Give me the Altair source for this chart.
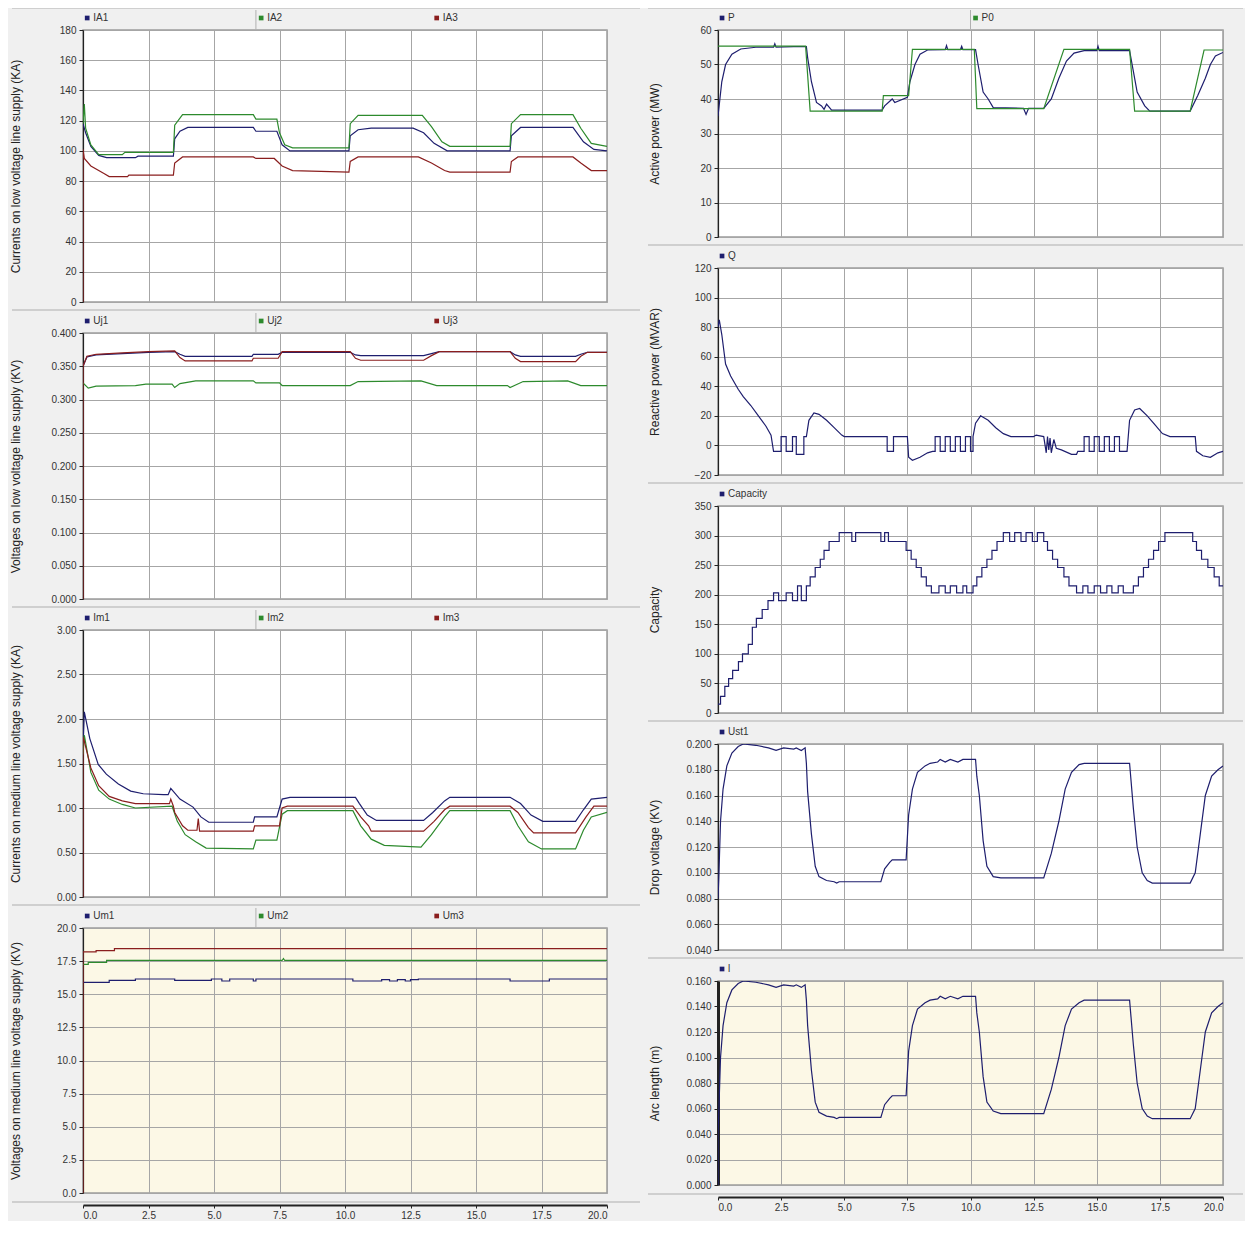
import altair as alt
import pandas as pd

NAVY = "#1e1e6e"
GREEN = "#2d8a2d"
RED = "#8a1e1e"
TEXT = "#333333"
GRID = "#a6a6a6"
CREAM = "#fcf8e6"
PAGE = "#f0f0f0"
FONT = "Liberation Sans"

X_TICKS = [0, 2.5, 5, 7.5, 10, 12.5, 15, 17.5, 20]

# ---------- tick labels ----------
IA_TICKS = [0, 20, 40, 60, 80, 100, 120, 140, 160, 180]
UJ_TICKS = [0.0, 0.05, 0.1, 0.15, 0.2, 0.25, 0.3, 0.35, 0.4]
IM_TICKS = [0.0, 0.5, 1.0, 1.5, 2.0, 2.5, 3.0]
UM_TICKS = [0.0, 2.5, 5.0, 7.5, 10.0, 12.5, 15.0, 17.5, 20.0]
P_TICKS = [0, 10, 20, 30, 40, 50, 60]
Q_TICKS = [-20, 0, 20, 40, 60, 80, 100, 120]
CAP_TICKS = [0, 50, 100, 150, 200, 250, 300, 350]
UST_TICKS = [0.04, 0.06, 0.08, 0.10, 0.12, 0.14, 0.16, 0.18, 0.20]
ARC_TICKS = [0.0, 0.02, 0.04, 0.06, 0.08, 0.10, 0.12, 0.14, 0.16]

# ---------- series (time s, value) ----------
IA1 = [(0,118),(0.1,112),(0.3,103),(0.6,97),(0.9,95.5),(2.0,95.5),(2.1,96.5),(3.45,96.5),(3.5,108),(3.7,113),(4.0,115.5),(6.5,115.5),(6.6,113),(7.4,113),(7.6,104),(7.9,100),(10.15,100),(10.2,110),(10.5,114),(11.0,115),(12.6,115),(13.0,112),(13.4,105),(13.9,100),(16.3,100),(16.35,110),(16.7,115.5),(18.7,115.5),(19.1,106),(19.5,101),(20,100)]
IA2 = [(0,118),(0.05,131),(0.1,115),(0.3,104),(0.6,97.5),(1.5,97.5),(1.6,99),(3.45,99),(3.5,117),(3.8,124),(6.5,124),(6.6,121),(7.4,121),(7.5,112),(7.7,104),(8.0,102),(10.15,102),(10.2,118),(10.5,123.5),(12.95,123.5),(13.3,116),(13.7,106),(14.0,103),(16.3,103),(16.35,118),(16.7,124),(18.7,124),(19.0,115),(19.4,105),(20,103)]
IA3 = [(0,0),(0,101),(0.05,95),(0.3,90),(0.8,85),(1.0,83),(1.7,83),(1.75,84),(3.45,84),(3.5,92),(3.8,96),(6.5,96),(6.6,95),(7.3,95),(7.6,90),(8.0,87),(10.15,86),(10.2,93),(10.5,96),(12.8,96),(13.3,92),(13.8,87),(14.0,86),(16.3,86),(16.35,93),(16.6,96),(18.7,96),(19.0,92),(19.4,87),(20,87)]

UJ1 = [(0,0.350),(0.15,0.364),(0.5,0.367),(1.5,0.369),(2.5,0.371),(3.5,0.372),(3.7,0.368),(3.9,0.365),(6.45,0.365),(6.5,0.368),(7.45,0.368),(7.6,0.371),(10.2,0.371),(10.4,0.367),(10.6,0.366),(13.0,0.366),(13.3,0.369),(13.6,0.372),(16.3,0.372),(16.5,0.367),(16.7,0.365),(18.8,0.365),(19.0,0.368),(19.25,0.371),(20,0.371)]
UJ2 = [(0,0.325),(0.2,0.317),(0.5,0.320),(2.0,0.321),(2.4,0.323),(3.4,0.323),(3.5,0.318),(3.7,0.324),(4.3,0.328),(6.5,0.328),(6.6,0.325),(7.5,0.325),(7.6,0.321),(10.2,0.321),(10.5,0.327),(12.9,0.328),(13.5,0.321),(16.2,0.321),(16.3,0.318),(16.8,0.327),(18.5,0.328),(19.0,0.321),(20,0.321)]
UJ3 = [(0,0),(0,0.350),(0.15,0.365),(0.5,0.368),(1.5,0.370),(2.5,0.372),(3.5,0.373),(3.7,0.363),(3.9,0.358),(6.45,0.358),(6.5,0.362),(7.45,0.362),(7.6,0.372),(10.2,0.372),(10.4,0.362),(10.6,0.359),(13.0,0.359),(13.3,0.366),(13.6,0.372),(16.3,0.372),(16.5,0.362),(16.7,0.357),(18.8,0.357),(19.0,0.365),(19.25,0.371),(20,0.371)]

IM1 = [(0,1.70),(0.05,2.08),(0.26,1.78),(0.58,1.49),(0.89,1.38),(1.35,1.27),(1.82,1.19),(2.3,1.16),(3.07,1.15),(3.25,1.15),(3.35,1.22),(3.7,1.10),(4.2,1.01),(4.5,0.90),(4.8,0.84),(6.5,0.84),(6.55,0.90),(7.4,0.90),(7.5,1.00),(7.6,1.10),(7.9,1.12),(10.4,1.12),(10.55,1.05),(10.85,0.92),(11.2,0.86),(13.0,0.86),(13.35,0.95),(13.8,1.08),(14.0,1.12),(16.3,1.12),(16.7,1.05),(17.1,0.92),(17.55,0.85),(18.8,0.85),(19.1,0.98),(19.4,1.10),(20,1.12)]
IM2 = [(0,1.60),(0.05,1.82),(0.3,1.40),(0.6,1.20),(1.0,1.10),(1.5,1.04),(2.0,1.00),(3.4,1.02),(3.6,0.85),(3.9,0.70),(4.3,0.62),(4.7,0.55),(6.5,0.54),(6.6,0.64),(7.4,0.64),(7.6,0.93),(7.8,0.97),(10.3,0.97),(10.6,0.80),(11.0,0.65),(11.5,0.58),(12.9,0.56),(13.3,0.70),(13.8,0.90),(14.0,0.97),(16.3,0.97),(16.6,0.80),(17.0,0.62),(17.5,0.54),(18.8,0.54),(19.1,0.75),(19.4,0.90),(20,0.95)]
IM3 = [(0,0),(0,1.80),(0.05,1.75),(0.3,1.45),(0.6,1.25),(1.0,1.13),(1.5,1.08),(2.0,1.05),(3.3,1.05),(3.35,1.10),(3.45,1.02),(3.5,0.95),(3.8,0.80),(4.0,0.75),(4.35,0.75),(4.4,0.88),(4.45,0.74),(6.5,0.74),(6.55,0.80),(7.5,0.80),(7.6,1.00),(7.8,1.02),(10.3,1.02),(10.6,0.90),(10.9,0.80),(11.0,0.74),(13.0,0.74),(13.4,0.85),(13.8,0.98),(14.0,1.02),(16.3,1.02),(16.6,0.95),(17.0,0.78),(17.2,0.72),(18.8,0.72),(19.2,0.90),(19.5,1.02),(20,1.02)]

UM1 = [(0,15.9),(1.0,15.9),(1.0,16.05),(2.0,16.05),(2.0,16.15),(3.5,16.15),(3.5,16.05),(4.9,16.05),(4.9,16.15),(5.3,16.15),(5.3,16.0),(5.6,16.0),(5.6,16.15),(6.5,16.15),(6.5,16.0),(6.6,16.0),(6.6,16.15),(10.3,16.15),(10.3,16.0),(11.4,16.0),(11.4,16.1),(11.7,16.1),(11.7,16.0),(12.0,16.0),(12.0,16.1),(12.3,16.1),(12.3,16.0),(12.5,16.0),(12.5,16.1),(12.8,16.1),(12.8,16.15),(16.3,16.15),(16.3,16.0),(17.8,16.0),(17.8,16.15),(20,16.15)]
UM2 = [(0,17.25),(0.2,17.25),(0.2,17.4),(0.9,17.4),(0.9,17.55),(7.6,17.55),(7.65,17.7),(7.7,17.55),(20,17.55)]
UM3 = [(0,0),(0,18.2),(0.5,18.2),(0.5,18.3),(1.2,18.3),(1.2,18.45),(20,18.45)]

P = [(0,35),(0.15,45),(0.3,50),(0.55,53),(0.9,54.5),(1.5,55),(2.2,55),(2.25,56),(2.3,55),(3.0,55.2),(3.5,55.2),(3.55,52),(3.7,45),(3.9,39),(4.1,38),(4.2,37),(4.3,38.5),(4.5,36.8),(6.5,36.8),(6.6,38),(6.9,40),(7.0,39),(7.5,40.5),(7.6,45),(7.8,50),(8.0,53),(8.3,54.2),(9.0,54.3),(9.05,55.5),(9.1,54.3),(9.6,54.3),(9.65,55.3),(9.7,54.3),(10.2,54.3),(10.3,50),(10.5,42),(10.7,40),(10.9,37.5),(12.1,37.3),(12.2,35.5),(12.3,37.3),(12.9,37.3),(13.2,40),(13.5,46),(13.8,51),(14.1,53.3),(14.5,54),(15.0,54),(15.05,55.3),(15.1,54),(16.3,54),(16.45,48),(16.6,42),(16.9,38),(17.1,36.5),(18.7,36.5),(19.0,41),(19.3,46),(19.5,50),(19.7,52.5),(20,53.5)]
P0 = [(0,55.3),(3.47,55.3),(3.65,36.5),(6.5,36.5),(6.55,41),(7.55,41),(7.7,54.4),(10.15,54.4),(10.25,37.2),(12.9,37.2),(13.7,54.4),(16.3,54.4),(16.5,36.5),(18.7,36.5),(19.25,54.2),(20,54.2)]

Q = [(0,80),(0.05,85),(0.15,75),(0.3,55),(0.5,47),(0.8,38),(1.0,33),(1.3,27),(1.6,20),(1.9,13),(2.1,7),(2.2,-4),(2.5,-4),(2.5,6),(2.7,6),(2.7,-4),(2.95,-4),(2.95,6),(3.1,6),(3.1,-6),(3.4,-6),(3.4,6),(3.5,6),(3.6,17),(3.8,22),(4.0,21),(4.3,17),(4.6,12),(4.9,7),(5.0,6),(6.7,6),(6.7,-4),(6.95,-4),(6.95,6),(7.5,6),(7.55,-8),(7.7,-10),(8.0,-8),(8.3,-5),(8.5,-4),(8.6,-4),(8.6,6),(8.8,6),(8.8,-4),(9.0,-4),(9.0,6),(9.2,6),(9.2,-4),(9.4,-4),(9.4,6),(9.6,6),(9.6,-4),(9.8,-4),(9.8,6),(10.0,6),(10.0,-4),(10.1,-4),(10.1,6),(10.2,15),(10.4,20),(10.7,17),(11.0,12),(11.3,8),(11.6,6),(12.5,6),(12.6,7),(12.9,6),(13.0,-5),(13.05,6),(13.1,-3),(13.15,5),(13.2,-5),(13.3,4),(13.4,-2),(13.6,-3),(14.0,-6),(14.2,-6),(14.25,-4),(14.5,-4),(14.5,6),(14.7,6),(14.7,-4),(14.9,-4),(14.9,6),(15.1,6),(15.1,-4),(15.3,-4),(15.3,6),(15.5,6),(15.5,-4),(15.7,-4),(15.7,6),(15.9,6),(15.9,-4),(16.2,-4),(16.3,17),(16.5,24),(16.7,25),(17.0,20),(17.3,14),(17.6,8),(17.9,6),(18.9,6),(18.95,-4),(19.2,-7),(19.5,-8),(19.8,-5),(20,-4)]

# capacity: value held from each time to the next
CAPACITY = [(0,15),(0.1,28),(0.27,45),(0.42,58),(0.58,72),(0.81,87),(0.97,100),(1.2,116),(1.36,145),(1.52,160),(1.75,175),(1.98,190),(2.2,203),(2.4,190),(2.7,203),(2.95,190),(3.15,215),(3.3,190),(3.5,215),(3.65,230),(3.85,246),(4.05,260),(4.2,275),(4.4,290),(4.8,305),(5.3,290),(5.45,305),(6.45,290),(6.6,305),(6.75,290),(7.45,275),(7.65,260),(7.85,246),(8.05,230),(8.25,215),(8.45,203),(8.75,215),(9.0,203),(9.2,215),(9.45,203),(9.7,215),(9.85,203),(10.1,215),(10.25,230),(10.45,246),(10.65,260),(10.85,275),(11.05,290),(11.3,305),(11.55,290),(11.75,305),(12.0,290),(12.2,305),(12.45,290),(12.65,305),(12.9,290),(13.05,275),(13.25,260),(13.45,246),(13.7,230),(13.9,215),(14.2,203),(14.45,215),(14.65,203),(14.9,215),(15.15,203),(15.4,215),(15.6,203),(15.85,215),(16.05,203),(16.45,215),(16.65,230),(16.85,246),(17.05,260),(17.25,275),(17.45,290),(17.7,305),(18.8,290),(18.95,275),(19.15,260),(19.4,246),(19.65,230),(19.85,215),(20,215)]

UST1 = [(0,0.080),(0.03,0.095),(0.1,0.140),(0.2,0.165),(0.35,0.183),(0.55,0.193),(0.8,0.198),(1.0,0.200),(1.5,0.199),(2.0,0.197),(2.3,0.195),(2.6,0.197),(3.0,0.196),(3.1,0.197),(3.3,0.195),(3.45,0.197),(3.5,0.185),(3.55,0.163),(3.7,0.130),(3.85,0.105),(4.0,0.097),(4.3,0.094),(4.6,0.093),(4.7,0.092),(4.8,0.093),(6.45,0.093),(6.6,0.103),(6.8,0.108),(6.9,0.110),(7.45,0.110),(7.55,0.145),(7.7,0.165),(7.9,0.178),(8.2,0.183),(8.4,0.185),(8.7,0.186),(8.8,0.188),(9.0,0.186),(9.2,0.188),(9.5,0.186),(9.7,0.188),(10.2,0.188),(10.25,0.175),(10.35,0.160),(10.5,0.125),(10.65,0.105),(10.9,0.097),(11.2,0.096),(12.9,0.096),(13.2,0.115),(13.5,0.140),(13.75,0.165),(14.0,0.178),(14.3,0.184),(14.5,0.185),(16.3,0.185),(16.45,0.150),(16.6,0.120),(16.8,0.100),(17.0,0.094),(17.2,0.092),(18.7,0.092),(18.9,0.100),(19.1,0.130),(19.3,0.160),(19.55,0.175),(19.8,0.180),(20,0.183)]

ARC = [(0,0.0),(0,0.040),(0.03,0.056),(0.1,0.100),(0.2,0.125),(0.35,0.143),(0.55,0.153),(0.8,0.158),(1.0,0.160),(1.5,0.159),(2.0,0.157),(2.3,0.155),(2.6,0.157),(3.0,0.156),(3.1,0.157),(3.3,0.155),(3.45,0.157),(3.5,0.145),(3.55,0.125),(3.7,0.090),(3.85,0.065),(4.0,0.057),(4.3,0.054),(4.6,0.053),(4.7,0.052),(4.8,0.053),(6.45,0.053),(6.6,0.063),(6.8,0.068),(6.9,0.070),(7.45,0.070),(7.55,0.105),(7.7,0.125),(7.9,0.138),(8.2,0.143),(8.4,0.145),(8.7,0.146),(8.8,0.148),(9.0,0.146),(9.2,0.148),(9.5,0.146),(9.7,0.148),(10.2,0.148),(10.25,0.135),(10.35,0.120),(10.5,0.085),(10.65,0.065),(10.9,0.058),(11.2,0.056),(12.9,0.056),(13.2,0.075),(13.5,0.100),(13.75,0.125),(14.0,0.138),(14.3,0.143),(14.5,0.145),(16.3,0.145),(16.45,0.110),(16.6,0.080),(16.8,0.060),(17.0,0.054),(17.2,0.052),(18.7,0.052),(18.9,0.060),(19.1,0.090),(19.3,0.120),(19.55,0.135),(19.8,0.140),(20,0.143)]

LEFT_LEGEND_T = [0.16, 6.8, 13.5]
RIGHT_LEGEND_T = [0.16, 10.2]


def panel(series, colors, legend_t, y_ticks, y_fmt, y_title, w, h, title_x,
          bottom=False, bg="white", sep_t=None, interp="linear", dom_w=1.2,
          frame_l=-71, frame_r=33, frame_gap=8, top_rule=False):
    rows = []
    for name, pts in series:
        for i, (t, v) in enumerate(pts):
            rows.append({"t": t, "v": v, "s": name, "i": i})
    df = pd.DataFrame(rows)
    names = [n for n, _ in series]
    color = alt.Color("s:N", scale=alt.Scale(domain=names, range=colors), legend=None)
    xs = alt.Scale(domain=[0, 20], nice=False, zero=False)
    ys = alt.Scale(domain=[y_ticks[0], y_ticks[-1]], nice=False, zero=False)
    xaxis = alt.Axis(values=X_TICKS, grid=True, labels=bottom, ticks=bottom,
                     domain=bottom, title=None, format=".1f",
                     offset=12 if bottom else 0, domainWidth=2, domainColor="#222",
                     labelPadding=2, tickSize=3)
    yaxis = alt.Axis(values=y_ticks, format=y_fmt, title=y_title, titleX=title_x,
                     grid=True, domainWidth=dom_w)
    X = alt.X("t:Q", scale=xs, axis=xaxis)
    lines = alt.Chart(df).mark_line(strokeWidth=1.2, interpolate=interp, clip=True).encode(
        x=X, y=alt.Y("v:Q", scale=ys, axis=yaxis),
        color=color, order="i:Q", detail="s:N")
    leg = pd.DataFrame({"t": legend_t, "s": names})
    sq = alt.Chart(leg).mark_square(size=22, opacity=1).encode(
        x=X, y=alt.value(-12), color=color)
    txt = alt.Chart(leg).mark_text(align="left", baseline="middle", dx=6, fontSize=10,
                                   font=FONT, color=TEXT).encode(
        x=X, y=alt.value(-12), text="s:N")
    one = pd.DataFrame({"a": [0]})
    layers = [lines, sq, txt]
    layers.append(alt.Chart(one).mark_rule(color="#c4c4c4", strokeWidth=1.5).encode(
        x=alt.value(frame_l), x2=alt.value(w + frame_r), y=alt.value(h + frame_gap)))
    if top_rule:
        layers.append(alt.Chart(one).mark_rule(color="#c4c4c4", strokeWidth=1.5).encode(
            x=alt.value(frame_l), x2=alt.value(w + frame_r), y=alt.value(-22)))
    if sep_t is not None:
        sep = pd.DataFrame({"t": [sep_t]})
        layers.append(alt.Chart(sep).mark_rule(color="#b0b0b0").encode(
            x=X, y=alt.value(-20), y2=alt.value(0)))
    return alt.layer(*layers).properties(
        width=w, height=h, view=alt.ViewBackground(fill=bg, stroke="#9c9c9c", strokeWidth=1.5))


LW = 524
RW = 505
LTX = -61
RTX = -57
RFL = -70
RFR = 20

p_ia = panel([("IA1", IA1), ("IA2", IA2), ("IA3", IA3)], [NAVY, GREEN, RED], LEFT_LEGEND_T,
             IA_TICKS, "d", "Currents on low voltage line supply (KA)", LW, 272, LTX,
             sep_t=6.6, top_rule=True)
p_uj = panel([("Uj1", UJ1), ("Uj2", UJ2), ("Uj3", UJ3)], [NAVY, GREEN, RED], LEFT_LEGEND_T,
             UJ_TICKS, ".3f", "Voltages on low voltage line supply (KV)", LW, 266, LTX, sep_t=6.6)
p_im = panel([("Im1", IM1), ("Im2", IM2), ("Im3", IM3)], [NAVY, GREEN, RED], LEFT_LEGEND_T,
             IM_TICKS, ".2f", "Currents on medium line voltage supply (KA)", LW, 267, LTX, sep_t=6.6)
p_um = panel([("Um1", UM1), ("Um2", UM2), ("Um3", UM3)], [NAVY, GREEN, RED], LEFT_LEGEND_T,
             UM_TICKS, ".1f", "Voltages on medium line voltage supply (KV)", LW, 265, LTX,
             sep_t=6.6, bottom=True, bg=CREAM, frame_gap=9)

r_p = panel([("P", P), ("P0", P0)], [NAVY, GREEN], RIGHT_LEGEND_T,
            P_TICKS, "d", "Active power (MW)", RW, 207, RTX, sep_t=10.0, top_rule=True,
            frame_l=RFL, frame_r=RFR)
r_q = panel([("Q", Q)], [NAVY], RIGHT_LEGEND_T[:1],
            Q_TICKS, "d", "Reactive power (MVAR)", RW, 207, RTX, frame_l=RFL, frame_r=RFR)
r_c = panel([("Capacity", CAPACITY)], [NAVY], RIGHT_LEGEND_T[:1],
            CAP_TICKS, "d", "Capacity", RW, 207, RTX, interp="step-after",
            frame_l=RFL, frame_r=RFR)
r_u = panel([("Ust1", UST1)], [NAVY], RIGHT_LEGEND_T[:1],
            UST_TICKS, ".3f", "Drop voltage (KV)", RW, 206, RTX, frame_l=RFL, frame_r=RFR)
r_l = panel([("l", ARC)], [NAVY], RIGHT_LEGEND_T[:1],
            ARC_TICKS, ".3f", "Arc length (m)", RW, 204, RTX, bottom=True, bg=CREAM,
            dom_w=3, frame_gap=9, frame_l=RFL, frame_r=RFR)

left = alt.vconcat(p_ia, p_uj, p_im, p_um, spacing=31, bounds="flush").resolve_scale(
    color="independent", x="independent", y="independent")
right = alt.vconcat(r_p, r_q, r_c, r_u, r_l, spacing=31, bounds="flush").resolve_scale(
    color="independent", x="independent", y="independent")

chart = alt.hconcat(left, right, spacing=4).resolve_scale(
    color="independent", x="independent", y="independent"
).properties(
    padding={"left": 0, "top": -2, "right": 0, "bottom": 0},
    background=PAGE,
).configure_view(
    stroke="#9c9c9c"
).configure_axis(
    labelFont=FONT, titleFont=FONT, labelFontSize=10, titleFontSize=12,
    titleFontWeight="normal", labelColor=TEXT, titleColor="#222222",
    gridColor=GRID, gridWidth=1, gridOpacity=1, domainColor="#222222", tickColor="#222222",
    tickSize=4, labelPadding=3
)

chart.save("out.html", embed_options={"renderer": "svg", "actions": False})
